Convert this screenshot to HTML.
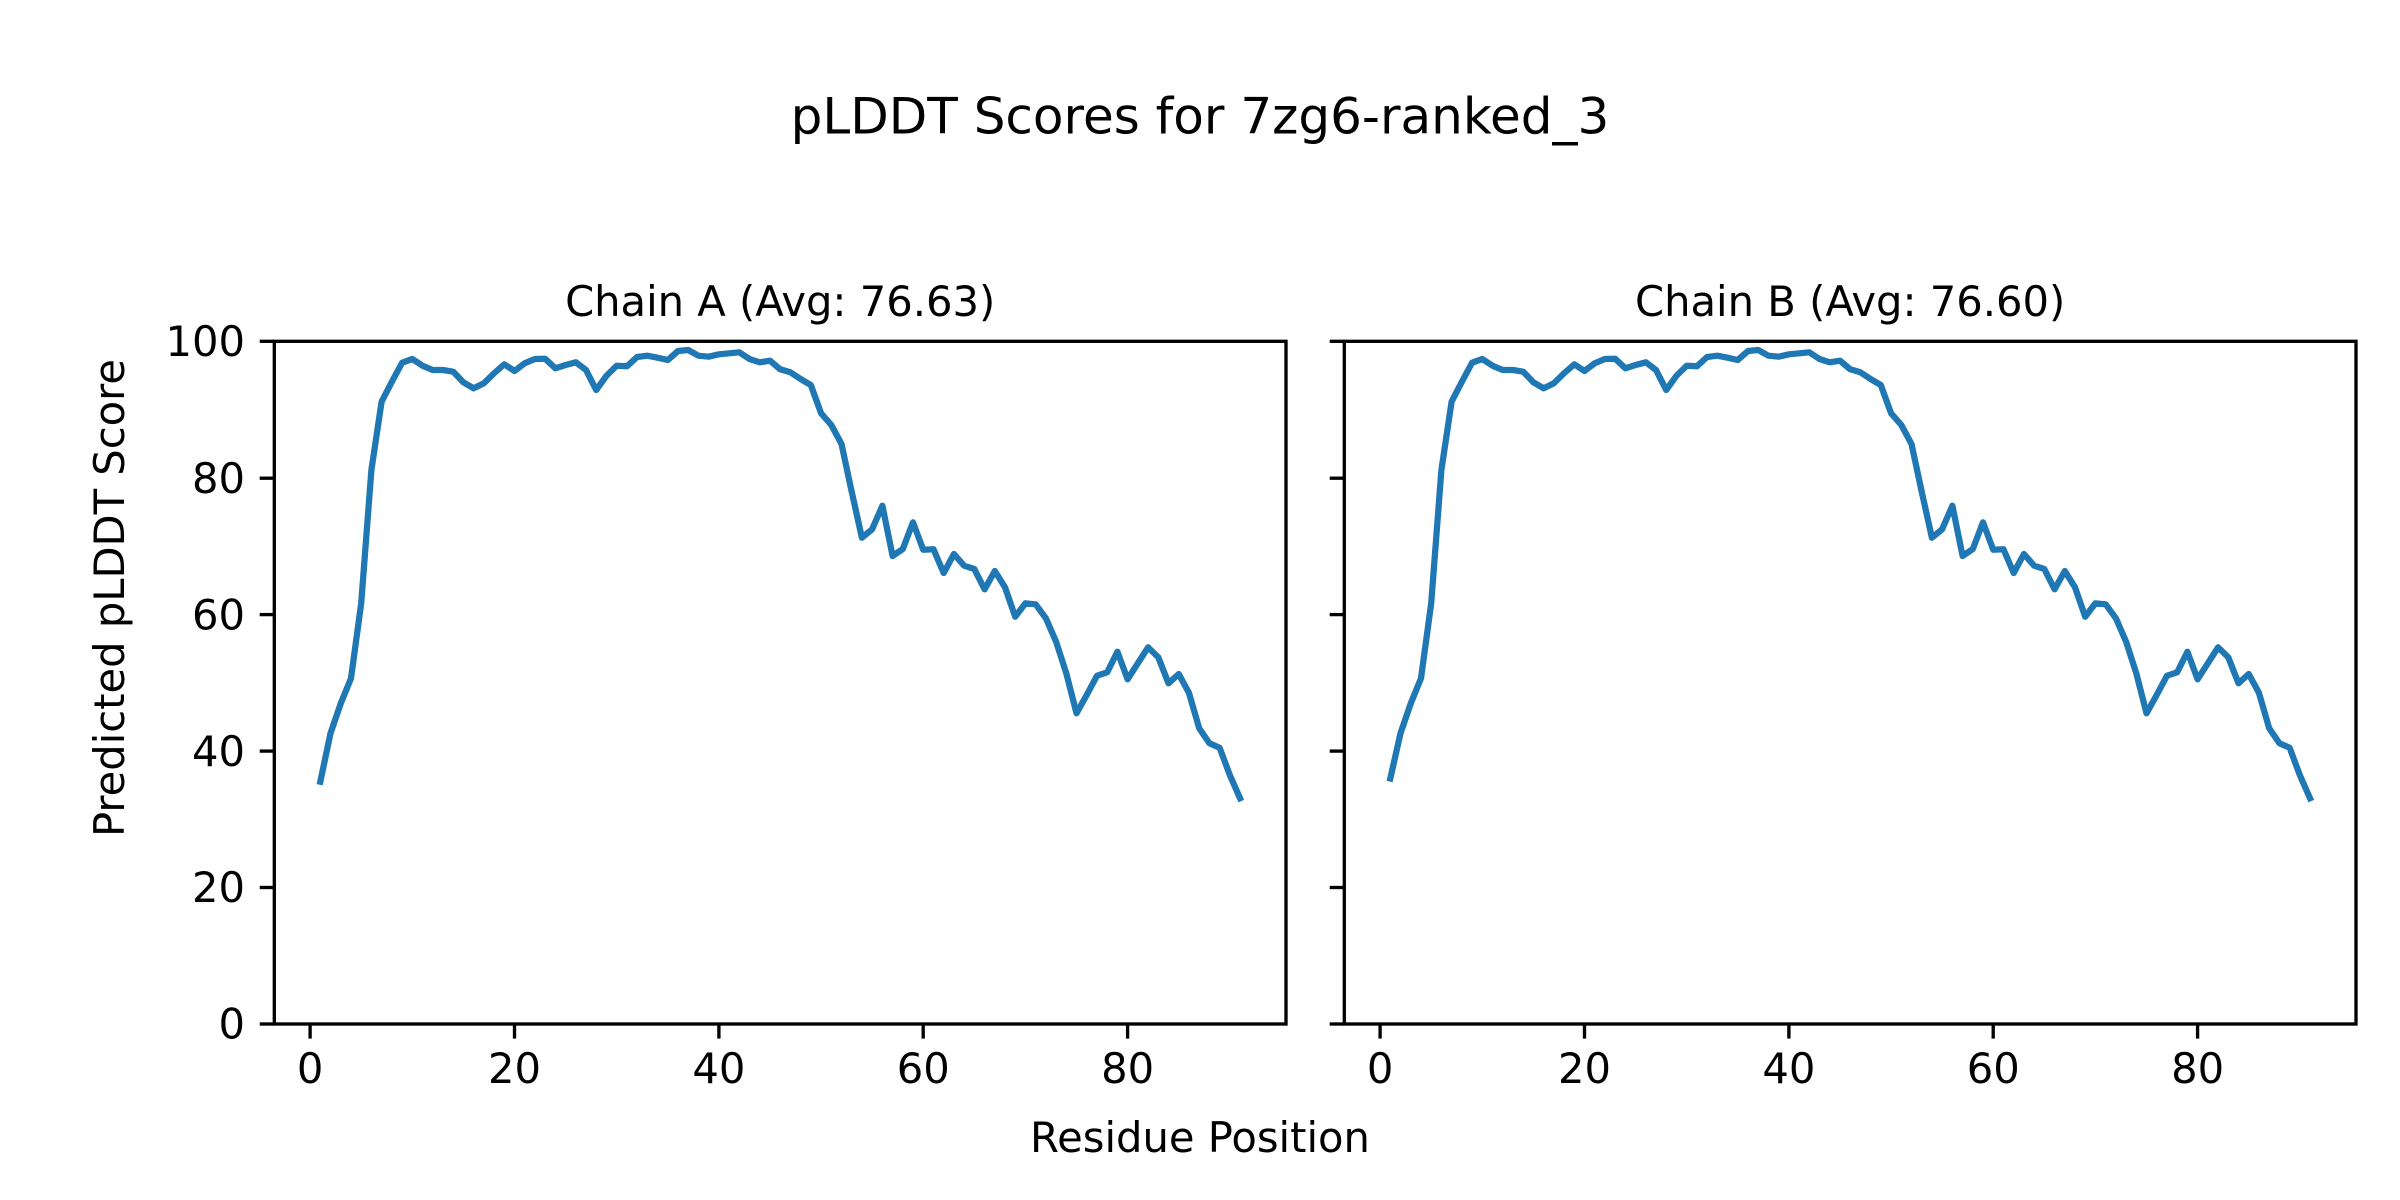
<!DOCTYPE html>
<html>
<head>
<meta charset="utf-8">
<style>
  html, body { margin: 0; padding: 0; background: #ffffff; }
  body { width: 2400px; height: 1200px; overflow: hidden; }
  svg { display: block; }
  text { font-family: "DejaVu Sans", "Liberation Sans", sans-serif; fill: #000; }
</style>
</head>
<body>
<svg width="2400" height="1200" viewBox="0 0 2400 1200" xmlns="http://www.w3.org/2000/svg">
  <rect x="0" y="0" width="2400" height="1200" fill="#ffffff"/>

  <!-- Suptitle -->
  <text x="1200" y="133.3" font-size="50" text-anchor="middle">pLDDT Scores for 7zg6-ranked_3</text>

  <!-- Sup labels -->
  <text x="1200" y="1152" font-size="41.67" text-anchor="middle">Residue Position</text>
  <text transform="translate(124,598) rotate(-90)" font-size="41.67" text-anchor="middle">Predicted pLDDT Score</text>

  <!-- ============ LEFT AXES ============ -->
  <text x="780.15" y="316" font-size="41.67" text-anchor="middle">Chain A (Avg: 76.63)</text>

  <polyline fill="none" stroke="#1f77b4" stroke-width="6.25" stroke-linejoin="round" stroke-linecap="square"
    points="320.3,781.7 330.5,733.3 340.8,703.3 351.0,678.3 361.2,603.3 371.4,470 381.6,401.7 391.9,381.7 402.1,362.7 412.3,359 422.5,365.7 432.7,370 442.9,370 453.2,371.7 463.4,382.3 473.6,388.3 483.8,383.3 494.0,373.3 504.3,364.3 514.5,371 524.7,363.3 534.9,359 545.1,358.7 555.4,368.3 565.6,365 575.8,362.3 586.0,370 596.2,390 606.5,375.7 616.7,365.7 626.9,366.3 637.1,357 647.3,355.7 657.5,357.7 667.8,360 678.0,351 688.2,350 698.4,355.7 708.6,356.7 718.9,354.3 729.1,353.3 739.3,352.3 749.5,359 759.7,362.3 770.0,360.7 780.2,369.3 790.4,372.3 800.6,379 810.8,385 821.1,413.3 831.3,425 841.5,444 851.7,491.7 861.9,537.7 872.1,529.3 882.4,505.7 892.6,556 902.8,549 913.0,522.3 923.2,549.7 933.5,549.3 943.7,573 953.9,554 964.1,565.7 974.3,569 984.6,589.3 994.8,571 1005.0,587.3 1015.2,616.7 1025.4,603.3 1035.7,604.3 1045.9,618.3 1056.1,641.7 1066.3,673.3 1076.5,713.3 1086.7,695 1097.0,675.7 1107.2,672.3 1117.4,651.7 1127.6,679.3 1137.8,663.3 1148.1,647.3 1158.3,657.3 1168.5,683.3 1178.7,674 1188.9,692.7 1199.2,728.3 1209.4,743.3 1219.6,747.7 1229.8,775 1240.0,798.3"/>

  <rect x="274.3" y="341.3" width="1011.7" height="682.7" fill="none" stroke="#000" stroke-width="3.33"/>

  <!-- left y ticks -->
  <g stroke="#000" stroke-width="3.33">
    <line x1="259.7" y1="1024" x2="274.3" y2="1024"/>
    <line x1="259.7" y1="887.5" x2="274.3" y2="887.5"/>
    <line x1="259.7" y1="751.1" x2="274.3" y2="751.1"/>
    <line x1="259.7" y1="614.6" x2="274.3" y2="614.6"/>
    <line x1="259.7" y1="478.2" x2="274.3" y2="478.2"/>
    <line x1="259.7" y1="341.3" x2="274.3" y2="341.3"/>
  </g>
  <g font-size="41.67" text-anchor="end">
    <text x="245" y="1038.7">0</text>
    <text x="245" y="902.2">20</text>
    <text x="245" y="765.8">40</text>
    <text x="245" y="629.3">60</text>
    <text x="245" y="492.9">80</text>
    <text x="245" y="356">100</text>
  </g>

  <!-- left x ticks -->
  <g stroke="#000" stroke-width="3.33">
    <line x1="310.1" y1="1024" x2="310.1" y2="1038.6"/>
    <line x1="514.5" y1="1024" x2="514.5" y2="1038.6"/>
    <line x1="718.9" y1="1024" x2="718.9" y2="1038.6"/>
    <line x1="923.2" y1="1024" x2="923.2" y2="1038.6"/>
    <line x1="1127.6" y1="1024" x2="1127.6" y2="1038.6"/>
  </g>
  <g font-size="41.67" text-anchor="middle">
    <text x="310.1" y="1083">0</text>
    <text x="514.5" y="1083">20</text>
    <text x="718.9" y="1083">40</text>
    <text x="923.2" y="1083">60</text>
    <text x="1127.6" y="1083">80</text>
  </g>

  <!-- ============ RIGHT AXES ============ -->
  <text x="1850.15" y="316" font-size="41.67" text-anchor="middle">Chain B (Avg: 76.60)</text>

  <g transform="translate(1070,0)">
    <polyline fill="none" stroke="#1f77b4" stroke-width="6.25" stroke-linejoin="round" stroke-linecap="square"
      points="320.3,778.5 330.5,733.3 340.8,703.3 351.0,678.3 361.2,603.3 371.4,470 381.6,401.7 391.9,381.7 402.1,362.7 412.3,359 422.5,365.7 432.7,370 442.9,370 453.2,371.7 463.4,382.3 473.6,388.3 483.8,383.3 494.0,373.3 504.3,364.3 514.5,371 524.7,363.3 534.9,359 545.1,358.7 555.4,368.3 565.6,365 575.8,362.3 586.0,370 596.2,390 606.5,375.7 616.7,365.7 626.9,366.3 637.1,357 647.3,355.7 657.5,357.7 667.8,360 678.0,351 688.2,350 698.4,355.7 708.6,356.7 718.9,354.3 729.1,353.3 739.3,352.3 749.5,359 759.7,362.3 770.0,360.7 780.2,369.3 790.4,372.3 800.6,379 810.8,385 821.1,413.3 831.3,425 841.5,444 851.7,491.7 861.9,537.7 872.1,529.3 882.4,505.7 892.6,556 902.8,549 913.0,522.3 923.2,549.7 933.5,549.3 943.7,573 953.9,554 964.1,565.7 974.3,569 984.6,589.3 994.8,571 1005.0,587.3 1015.2,616.7 1025.4,603.3 1035.7,604.3 1045.9,618.3 1056.1,641.7 1066.3,673.3 1076.5,713.3 1086.7,695 1097.0,675.7 1107.2,672.3 1117.4,651.7 1127.6,679.3 1137.8,663.3 1148.1,647.3 1158.3,657.3 1168.5,683.3 1178.7,674 1188.9,692.7 1199.2,728.3 1209.4,743.3 1219.6,747.7 1229.8,775 1240.0,798.3"/>

    <rect x="274.3" y="341.3" width="1011.7" height="682.7" fill="none" stroke="#000" stroke-width="3.33"/>

    <g stroke="#000" stroke-width="3.33">
      <line x1="259.7" y1="1024" x2="274.3" y2="1024"/>
      <line x1="259.7" y1="887.5" x2="274.3" y2="887.5"/>
      <line x1="259.7" y1="751.1" x2="274.3" y2="751.1"/>
      <line x1="259.7" y1="614.6" x2="274.3" y2="614.6"/>
      <line x1="259.7" y1="478.2" x2="274.3" y2="478.2"/>
      <line x1="259.7" y1="341.3" x2="274.3" y2="341.3"/>
    </g>

    <g stroke="#000" stroke-width="3.33">
      <line x1="310.1" y1="1024" x2="310.1" y2="1038.6"/>
      <line x1="514.5" y1="1024" x2="514.5" y2="1038.6"/>
      <line x1="718.9" y1="1024" x2="718.9" y2="1038.6"/>
      <line x1="923.2" y1="1024" x2="923.2" y2="1038.6"/>
      <line x1="1127.6" y1="1024" x2="1127.6" y2="1038.6"/>
    </g>
    <g font-size="41.67" text-anchor="middle">
      <text x="310.1" y="1083">0</text>
      <text x="514.5" y="1083">20</text>
      <text x="718.9" y="1083">40</text>
      <text x="923.2" y="1083">60</text>
      <text x="1127.6" y="1083">80</text>
    </g>
  </g>
</svg>
</body>
</html>
